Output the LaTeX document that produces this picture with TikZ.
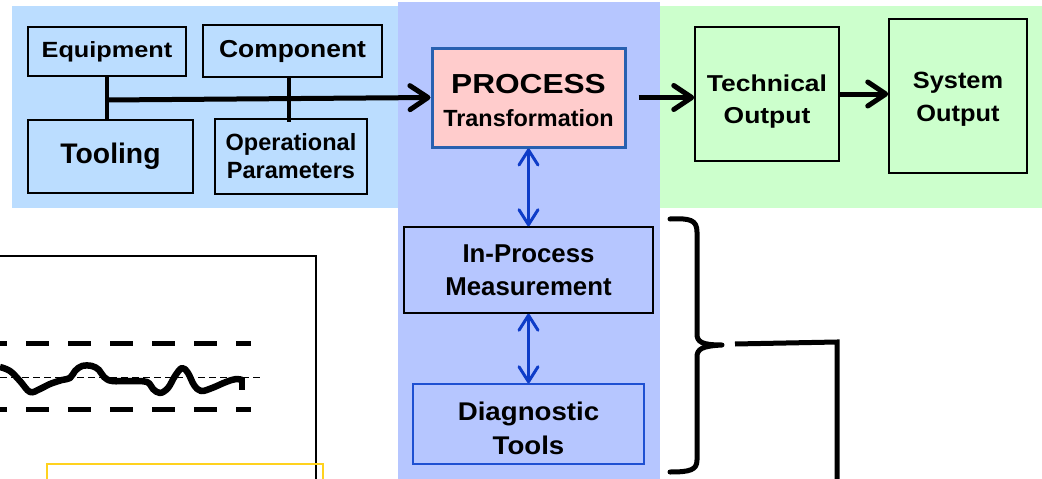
\documentclass[tikz,border=0pt]{standalone}
\usepackage{fontspec}
\setmainfont{Liberation Sans}
\newfontfamily\fplain{Liberation Sans}
\newfontfamily\fmid[FakeStretch=1.08]{Liberation Sans}
\newfontfamily\fwide[FakeStretch=1.15]{Liberation Sans}
\usetikzlibrary{arrows.meta}

\definecolor{inputband}{RGB}{187,221,255}
\definecolor{processband}{RGB}{182,198,255}
\definecolor{outputband}{RGB}{204,255,204}
\definecolor{processfill}{RGB}{255,204,204}
\definecolor{processedge}{RGB}{40,96,176}
\definecolor{linkblue}{RGB}{14,60,200}
\definecolor{diagedge}{RGB}{30,80,210}
\definecolor{limitgold}{RGB}{255,210,30}

\tikzset{
  box/.style={draw, line width=1.5pt, rectangle, inner sep=0pt, align=center},
  inbox/.style={box, fill=inputband},
  outbox/.style={box, fill=outputband},
  midbox/.style={box, fill=processband},
  feed/.style={line width=4pt},
  flow/.style={line width=5pt, -{Straight Barb[length=18pt,width=24pt,round]}},
  link/.style={draw=linkblue, line width=3pt,
    {Straight Barb[length=15pt,width=19pt,round]}-{Straight Barb[length=15pt,width=19pt,round]}},
  bracket/.style={line width=5pt, line cap=round, line join=round},
}

\begin{document}
\begin{tikzpicture}[x=1pt,y=-1pt]
\useasboundingbox (0,0) rectangle (1042,479);
\clip (0,0) rectangle (1042,479);

% background bands
\fill[inputband] (12,6) rectangle (398,208);
\fill[outputband] (660,6) rectangle (1042,208);
\fill[processband] (398,2) rectangle (660,480);

% inputs
\node[inbox, minimum width=158pt, minimum height=49pt,
      font=\fwide\bfseries\fontsize{22}{28}\selectfont] (equip) at (107,51.5) {Equipment};
\node[inbox, minimum width=179pt, minimum height=52pt,
      font=\fmid\bfseries\fontsize{24.5}{28}\selectfont] (comp) at (292.5,51) {Component};
\node[inbox, minimum width=165pt, minimum height=73pt,
      font=\fplain\bfseries\fontsize{28.3}{30}\selectfont] (tool) at (110.5,156.5) {Tooling};
\node[inbox, minimum width=152pt, minimum height=75pt,
      font=\fplain\bfseries\fontsize{23.5}{28}\selectfont] (ops) at (291,156.5) {Operational\\Parameters};

% process
\node[box, draw=processedge, line width=3pt, fill=processfill,
      minimum width=193pt, minimum height=99pt, text height=58pt,
      font=\bfseries\fontsize{23.4}{30}\selectfont] (proc) at (528.5,97.5)
      {{\fwide\fontsize{27.5}{30}\selectfont PROCESS}\\[3pt]{\fplain Transformation}};

% outputs
\node[outbox, minimum width=144pt, minimum height=134pt, text height=63pt,
      font=\fwide\bfseries\fontsize{23}{32}\selectfont] (tech) at (767,94) {Technical\\Output};
\node[outbox, minimum width=138pt, minimum height=154pt, text height=55pt,
      font=\fmid\bfseries\fontsize{23.5}{33}\selectfont] (sys) at (958,96) {System\\Output};

% measurement chain
\node[midbox, minimum width=249pt, minimum height=86pt,
      font=\fplain\bfseries\fontsize{25.8}{30}\selectfont] (meas) at (528.5,270) {In-Process\\[3pt]Measurement};
\node[midbox, draw=diagedge, minimum width=231pt, minimum height=80pt, text height=62pt,
      font=\fmid\bfseries\fontsize{25.6}{30}\selectfont] (diag) at (528.5,424) {Diagnostic\\[4pt]Tools};

% input feeds
\coordinate (j) at (107,100);
\coordinate (cx) at (289,0);
\draw[feed] (equip.south) -- (equip.south |- tool.north);
\draw[feed] (comp.south -| cx) -- ([yshift=-4pt]ops.north -| cx);
\draw[flow] (j) -- (proc.west);

% output flow
\draw[flow, shorten <=12pt] (proc.east) -- (tech.west |- proc.east);
\draw[flow] (tech.east) -- (sys.west |- tech.east);

% measurement links
\draw[link] (proc.south) -- (meas.north);
\draw[link] (meas.south) -- (diag.north);

% brace and leader
\coordinate (bracetip) at (722,345);
\coordinate (leadstart) at (735,344);
\coordinate (leadcorner) at (837,342);
\draw[bracket] (670,219) .. controls (690,218) and (697,220) .. (697,232)
  -- (697,334) .. controls (697,342) and (702,345) .. (bracetip)
  .. controls (702,346) and (697,349) .. (697,357)
  -- (697,460) .. controls (697,470) and (690,472) .. (670,472);
\draw[line width=5pt] (leadstart) -- (leadcorner) -- (837,490);

% control chart
\draw[line width=1.5pt] (-10,256) -- (316,256) -- (316,490);
\draw[line width=5pt, dash pattern=on 23pt off 19pt, dash phase=16pt] (0,343) -- (251,343);
\draw[line width=5pt, dash pattern=on 23pt off 19pt, dash phase=16pt] (0,409) -- (251,409);
\draw[line width=1pt, dash pattern=on 7pt off 4pt] (0,377) -- (260,377);
\draw[line width=6.5pt, line join=round]
  plot[smooth, tension=0.6] coordinates {(0,367) (10,371) (20,381) (30,392) (40,389) (50,384)
    (62,380) (70,378) (75,371) (82,366) (92,366) (99,370) (104,377) (112,381) (130,381)
    (147,382) (153,389) (160,393) (168,388) (175,376) (182,368) (188,373) (194,385)
    (201,391) (212,388) (226,382) (236,379) (242,380)};
\draw[line width=6.5pt] (242,377) -- (242,390);
\draw[limitgold, line width=1.5pt] (47,490) -- (47,464) -- (323,464) -- (323,490);
\end{tikzpicture}
\end{document}
